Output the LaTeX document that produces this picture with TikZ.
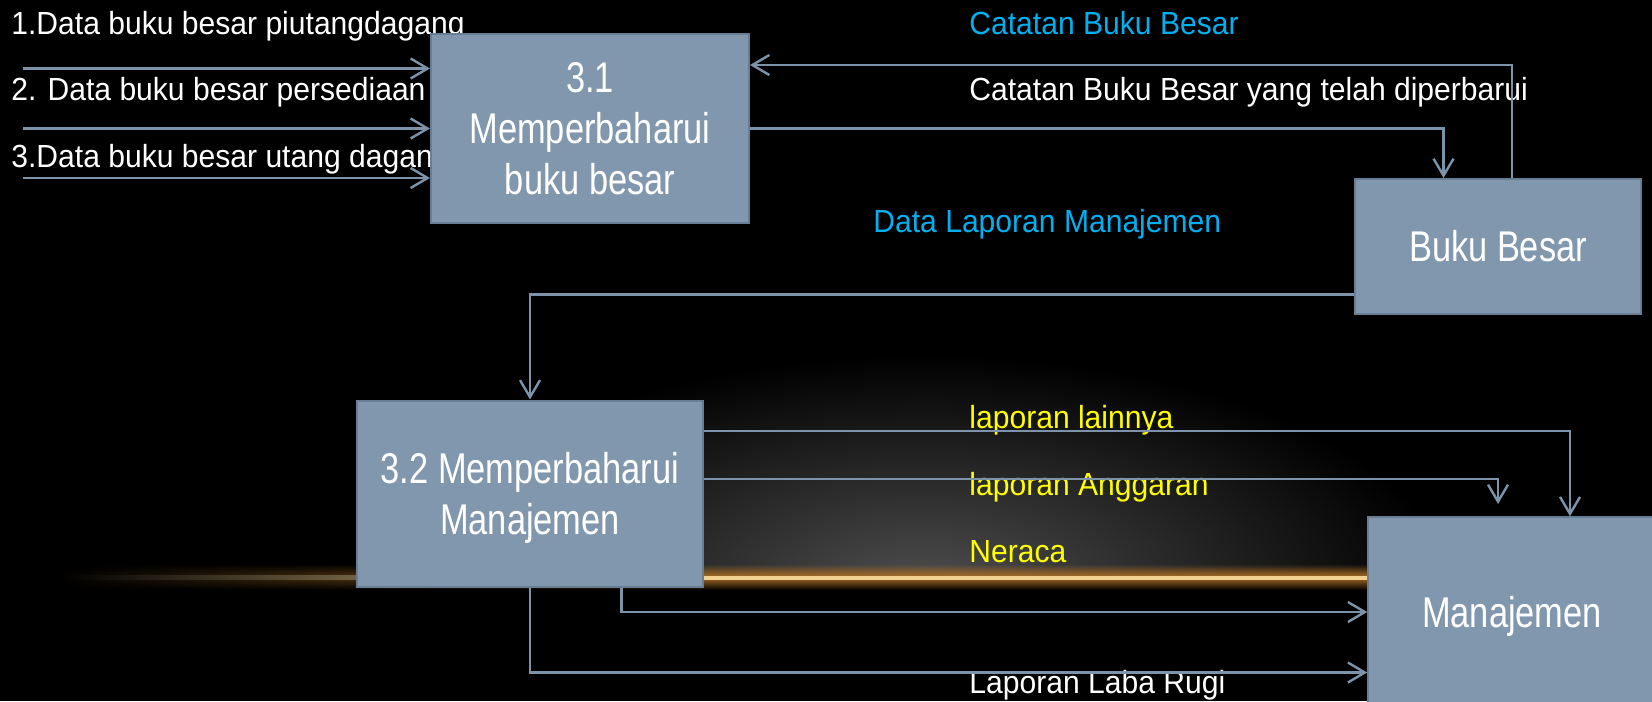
\documentclass[tikz,border=0pt]{standalone}
\usepackage{fontspec}
\setmainfont{Liberation Sans}[FakeStretch=0.94]
\newfontfamily\boxfont{Liberation Sans}[FakeStretch=0.80]
\usetikzlibrary{arrows.meta,fadings}
\definecolor{boxfill}{RGB}{128,151,173}
\definecolor{boxline}{RGB}{104,126,148}
\definecolor{flow}{RGB}{124,147,170}
\definecolor{cyanlbl}{RGB}{0,176,240}
\definecolor{yellowlbl}{RGB}{255,255,0}
\definecolor{glowor}{RGB}{170,110,35}
\definecolor{coreor}{RGB}{242,208,145}
\definecolor{glowgray}{RGB}{78,78,78}
\tikzfading[name=vfade, top color=transparent!100, bottom color=transparent!100, middle color=transparent!0]
\begin{document}
\begin{tikzpicture}[x=0.5pt,y=-0.5pt,
  proc/.style={draw=boxline, line width=1pt, fill=boxfill, text=white, align=center,
    font=\boxfont\fontsize{21.5}{25.5}\selectfont, inner sep=0pt},
  lbl/.style={anchor=base west, inner sep=0pt, font=\fontsize{16}{18}\selectfont},
  arr/.style={draw=flow, line width=1.2pt, -{Straight Barb[length=8.5pt,width=10pt]}}]
% background
\fill[black] (0,0) rectangle (1652,701);
\useasboundingbox (0,0) rectangle (1652,701);
\begin{scope}
  \clip (0,0) rectangle (1652,577);
  \shade[inner color=glowgray, outer color=black] (925,585) ellipse (520 and 230);
\end{scope}
\shade[left color=black, right color=glowor, path fading=vfade] (50,564) rectangle (700,590);
\fill[glowor, path fading=vfade] (700,564) rectangle (1370,590);
\shade[left color=black, right color=coreor] (60,575.5) rectangle (700,579.5);
\fill[coreor] (700,575.5) rectangle (1370,579.5);
% labels
\node[lbl, text=white] (t1) at (11,35) {1.Data buku besar piutangdagang};
\node[lbl, text=white] (t2) at (11,100) {2. Data buku besar persediaan};
\node[lbl, text=white] (t3) at (11,167) {3.Data buku besar utang dagan};
\node[lbl, text=cyanlbl] (t4) at (969,35) {Catatan Buku Besar};
\node[lbl, text=white] (t5) at (969,100) {Catatan Buku Besar yang telah diperbarui};
\node[lbl, text=cyanlbl] (t6) at (873,232) {Data Laporan Manajemen};
\node[lbl, text=yellowlbl] (t7) at (969,428) {laporan lainnya};
\node[lbl, text=yellowlbl] (t8) at (969,495) {laporan Anggaran};
\node[lbl, text=yellowlbl] (t9) at (969,562) {Neraca};
\node[lbl, text=white] (t10) at (969,693) {Laporan Laba Rugi};
% boxes
\node[proc, minimum width=159pt, minimum height=94.5pt] (b31) at (590,128.5) {3.1\\Memperbaharui\\buku besar};
\node[proc, minimum width=143.25pt, minimum height=67.5pt] (bb) at (1498,246.5) {Buku Besar};
\node[proc, minimum width=173.25pt, minimum height=93pt, text depth=0pt] (b32) at (530,493.5) {3.2 Memperbaharui\\Manajemen};
\node[proc, minimum width=143.75pt, minimum height=98.75pt] (man) at (1512,616) {Manajemen};
% connectors
\coordinate (i1) at (23,68.5);
\coordinate (i2) at (23,128.5);
\coordinate (i3) at (23,178);
\draw[arr] (i1) -- (i1 -| b31.west);
\draw[arr] (i2) -- (i2 -| b31.west);
\draw[arr] (i3) -- (i3 -| b31.west);
\coordinate (c1) at (1512,65);
\draw[arr] (c1 |- bb.north) -- (c1) -- (c1 -| b31.east);
\coordinate (c2) at (1443.5,128.5);
\draw[arr] (b31.east |- c2) -- (c2) -- (c2 |- bb.north);
\coordinate (c3) at (530,294.5);
\draw[arr] (bb.west |- c3) -- (c3) -- (b32.north);
\coordinate (c4) at (1570,431);
\draw[arr] (b32.east |- c4) -- (c4) -- (c4 |- man.north);
\coordinate (c5) at (1498,479);
\coordinate (c5e) at (1498,504);
\draw[arr] (b32.east |- c5) -- (c5) -- (c5e);
\coordinate (c6) at (621.5,612);
\draw[arr] (c6 |- b32.south) -- (c6) -- (c6 -| man.west);
\coordinate (c7) at (530,672.5);
\draw[arr] (b32.south) -- (c7) -- (c7 -| man.west);
\end{tikzpicture}
\end{document}
